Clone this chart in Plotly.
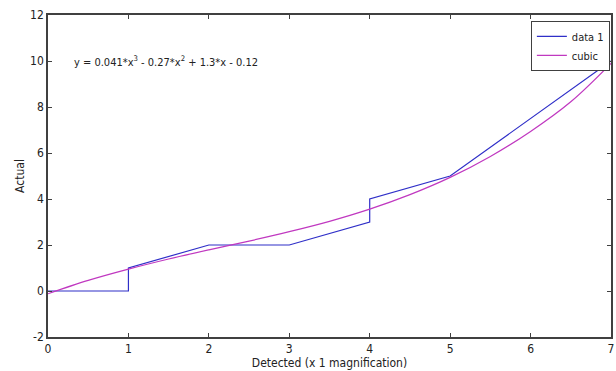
import plotly.graph_objects as go

# data 1 (step-like measured series)
data_x = [0, 1, 1, 2, 3, 4, 4, 5, 7]
data_y = [0, 0, 1, 2, 2, 3, 4, 5, 10]

# cubic fit curve
cubic_x = [0, 0.5, 1, 1.5, 2, 2.5, 3, 3.5, 4, 4.5, 5, 5.5, 6, 6.5, 7]
cubic_y = [-0.12, 0.46, 0.95, 1.39, 1.79, 2.17, 2.58, 3.03, 3.56, 4.19, 4.94, 5.85, 6.94, 8.23, 9.9]

x_ticks = [0, 1, 2, 3, 4, 5, 6, 7]
y_ticks = [-2, 0, 2, 4, 6, 8, 10, 12]

equation = "y = 0.041*x<sup>3</sup> - 0.27*x<sup>2</sup> + 1.3*x - 0.12"

FONT = "Liberation Sans Narrow, DejaVu Sans Condensed, Arial Narrow, Liberation Sans, sans-serif"

fig = go.Figure()
fig.add_trace(go.Scatter(x=data_x, y=data_y, mode="lines", name="data 1",
                         line=dict(color="#2f2fc8", width=1.2)))
fig.add_trace(go.Scatter(x=cubic_x, y=cubic_y, mode="lines", name="cubic",
                         line=dict(color="#c038c0", width=1.2, shape="spline")))

axis_common = dict(showgrid=False, zeroline=False, showline=True, mirror="allticks",
                   linecolor="#404040", linewidth=1.5, ticks="inside", ticklen=4,
                   tickcolor="#404040", tickwidth=1,
                   tickfont=dict(family=FONT, size=12, color="#222"))

fig.update_layout(
    width=616, height=371,
    margin=dict(l=48, r=3, t=15, b=34),
    paper_bgcolor="white", plot_bgcolor="white",
    font=dict(family=FONT, size=12, color="#222"),
    xaxis=dict(range=[0, 7], tickvals=x_ticks, ticktext=[str(v) for v in x_ticks],
               title=dict(text="Detected (x 1 magnification)", standoff=2,
                          font=dict(family=FONT, size=12)),
               **axis_common),
    yaxis=dict(range=[-2, 12], tickvals=y_ticks, ticktext=[str(v) for v in y_ticks],
               title=dict(text="Actual", standoff=3, font=dict(family=FONT, size=12)),
               **axis_common),
    legend=dict(x=0.998, y=0.982, xanchor="right", yanchor="top",
                bgcolor="white", bordercolor="#404040", borderwidth=1,
                font=dict(family=FONT, size=11, color="#222"),
                tracegroupgap=0, itemwidth=30),
    showlegend=True,
)

fig.add_annotation(x=0.3, y=10, xref="x", yref="y", text=equation, showarrow=False,
                   xanchor="left", yanchor="middle",
                   font=dict(family=FONT, size=11, color="#222"))

fig.write_html("out.html", config={"displayModeBar": False},
               post_script="document.body.style.margin='0';")
